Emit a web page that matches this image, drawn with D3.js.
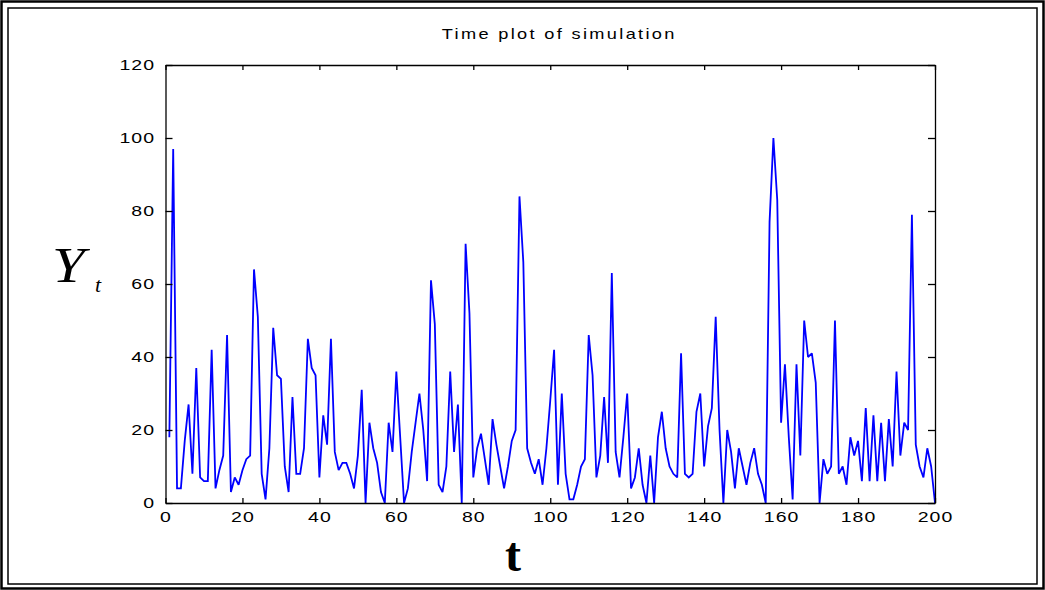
<!DOCTYPE html>
<html>
<head>
<meta charset="utf-8">
<script src="https://cdn.jsdelivr.net/npm/d3@7"></script>
<style>
  html, body { margin: 0; padding: 0; background: #fff; }
  svg { display: block; }
</style>
</head>
<body>
<svg id="chart" width="1045" height="590"></svg>
<script>
// Simulated series Y_t, t = 1..200
const tValues = d3.range(1, 201);
const yValues = [
  18, 97, 4, 4, 17, 27, 8, 37, 7, 6,
  6, 42, 4, 9, 13, 46, 3, 7, 5, 9,
  12, 13, 64, 51, 8, 1, 15, 48, 35, 34,
  10, 3, 29, 8, 8, 15, 45, 37, 35, 7,
  24, 16, 45, 14, 9, 11, 11, 8, 4, 13,
  31, 0, 22, 15, 11, 3, 0, 22, 14, 36,
  18, 0, 4, 14, 22, 30, 20, 6, 61, 49,
  5, 3, 10, 36, 14, 27, 0, 71, 52, 7,
  15, 19, 12, 5, 23, 16, 10, 4, 10, 17,
  20, 84, 66, 15, 11, 8, 12, 5, 15, 28,
  42, 5, 30, 8, 1, 1, 5, 10, 12, 46,
  35, 7, 13, 29, 11, 63, 14, 7, 18, 30,
  4, 7, 15, 5, 0, 13, 0, 18, 25, 15,
  10, 8, 7, 41, 8, 7, 8, 25, 30, 10,
  21, 26, 51, 20, 0, 20, 14, 4, 15, 10,
  5, 11, 15, 8, 5, 0, 77, 100, 83, 22,
  38, 18, 1, 38, 13, 50, 40, 41, 33, 0,
  12, 8, 10, 50, 8, 10, 5, 18, 13, 17,
  6, 26, 6, 24, 6, 22, 6, 23, 10, 36,
  13, 22, 20, 79, 16, 10, 7, 15, 10, 0
];
const xTicks = [0, 20, 40, 60, 80, 100, 120, 140, 160, 180, 200];
const yTicks = [0, 20, 40, 60, 80, 100, 120];
const titleText = "Time plot of simulation";

const svg = d3.select("#chart");
const W = 1045, H = 590;
const plot = { left: 165.5, right: 935, top: 65, bottom: 503 };

// page frame (double rule)
svg.append("rect").attr("x", 0).attr("y", 0).attr("width", W).attr("height", H).attr("fill", "#fff");
svg.append("rect").attr("x", 1.5).attr("y", 1.5).attr("width", W - 3).attr("height", H - 3)
  .attr("fill", "none").attr("stroke", "#000").attr("stroke-width", 2.5);
svg.append("rect").attr("x", 8).attr("y", 8).attr("width", W - 16).attr("height", H - 14)
  .attr("fill", "none").attr("stroke", "#000").attr("stroke-width", 1.5);

const x = d3.scaleLinear().domain([0, 200]).range([plot.left, plot.right]);
const y = d3.scaleLinear().domain([0, 120]).range([plot.bottom, plot.top]);

const labelFont = "'Liberation Sans', Arial, sans-serif";
const stretch = "scale(1.3,1)";

// series
const line = d3.line().x((d, i) => x(tValues[i])).y(d => y(d));
svg.append("path")
  .datum(yValues)
  .attr("d", line)
  .attr("fill", "none")
  .attr("stroke", "#0000ff")
  .attr("stroke-width", 1.8)
  .attr("stroke-linejoin", "miter")
  .attr("stroke-miterlimit", 2);

// axes with inward ticks on all four sides
const gB = svg.append("g").attr("transform", `translate(0,${plot.bottom})`)
  .call(d3.axisBottom(x).tickValues(xTicks).tickSizeInner(-5).tickSizeOuter(0).tickPadding(8.5));
const gT = svg.append("g").attr("transform", `translate(0,${plot.top})`)
  .call(d3.axisTop(x).tickValues(xTicks).tickSizeInner(-5).tickSizeOuter(0).tickFormat(""));
const gL = svg.append("g").attr("transform", `translate(${plot.left},0)`)
  .call(d3.axisLeft(y).tickValues(yTicks).tickSizeInner(-7).tickSizeOuter(0).tickPadding(8));
const gR = svg.append("g").attr("transform", `translate(${plot.right},0)`)
  .call(d3.axisRight(y).tickValues(yTicks).tickSizeInner(-7).tickSizeOuter(0).tickFormat(""));

[gB, gT, gL, gR].forEach(g => {
  g.select(".domain").attr("stroke", "#000").attr("stroke-width", 1.3);
  g.selectAll(".tick line").attr("stroke", "#000").attr("stroke-width", 1.3);
  g.selectAll(".tick text")
    .attr("fill", "#000")
    .style("font-family", labelFont)
    .style("font-size", "15px")
    .style("letter-spacing", "0.8px")
    .attr("transform", stretch);
});

// title
svg.append("text")
  .attr("transform", `translate(${(plot.left + plot.right) / 2 + 9},39) ${stretch}`)
  .attr("text-anchor", "middle")
  .style("font-family", labelFont)
  .style("font-size", "14px")
  .style("letter-spacing", "1.8px")
  .attr("fill", "#000")
  .text(titleText);

// y-axis label: Y with subscript t
const serif = "'Liberation Serif', 'Times New Roman', serif";
svg.append("text")
  .attr("transform", "translate(52,282) scale(1.18,1)")
  .style("font-family", serif)
  .style("font-style", "italic")
  .style("font-size", "50px")
  .attr("fill", "#000")
  .text("Y");
svg.append("text")
  .attr("x", 95).attr("y", 292)
  .style("font-family", serif)
  .style("font-style", "italic")
  .style("font-size", "22px")
  .attr("fill", "#000")
  .text("t");

// x-axis label
svg.append("text")
  .attr("x", 513).attr("y", 571)
  .attr("text-anchor", "middle")
  .style("font-family", serif)
  .style("font-weight", "bold")
  .style("font-size", "48px")
  .attr("fill", "#000")
  .text("t");
</script>
</body>
</html>
